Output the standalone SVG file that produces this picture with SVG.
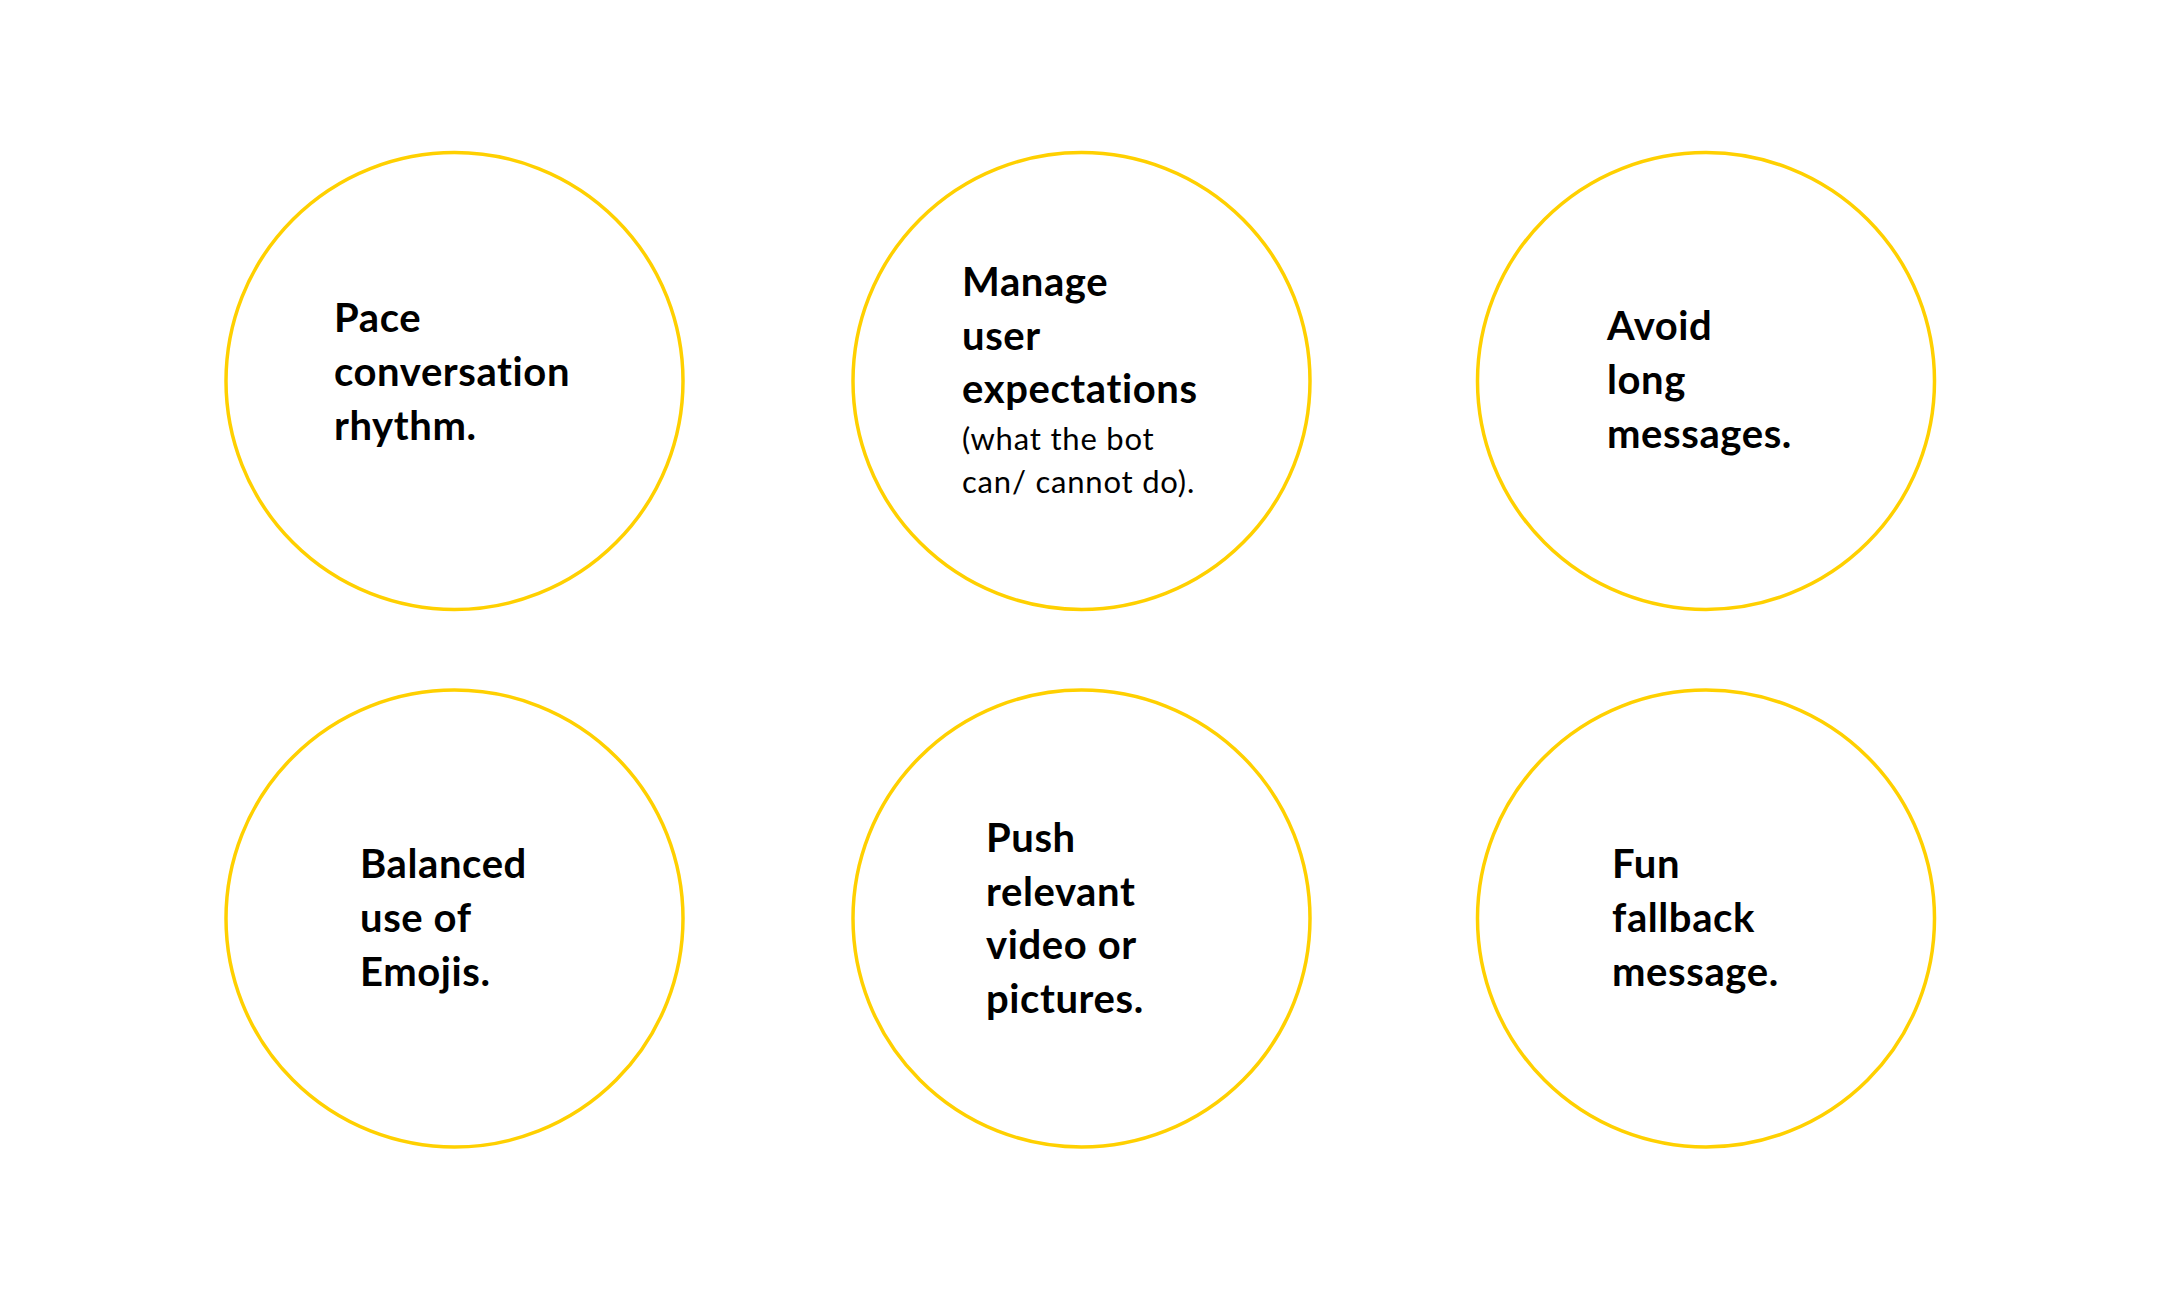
<svg xmlns="http://www.w3.org/2000/svg" width="2160" height="1300" viewBox="0 0 2160 1300">
<style>
.c{fill:none;stroke:#FFD000;stroke-width:3.5}
.t{font-family:Lato,"Open Sans","Liberation Sans",sans-serif;font-weight:700;font-size:40px;fill:#000;letter-spacing:0.6px}
.s{font-family:Lato,"Open Sans","Liberation Sans",sans-serif;font-weight:400;font-size:31px;fill:#000;letter-spacing:0.8px}
</style>
<rect width="2160" height="1300" fill="#fff"/>
<g id="connectors"/>
<g id="n1">
<circle class="c" cx="454.5" cy="381" r="228.5"/>
<text class="t" x="334"><tspan x="334" y="332">Pace</tspan><tspan x="334" y="386">conversation</tspan><tspan x="334" y="440">rhythm.</tspan></text>
</g>
<g id="n2">
<circle class="c" cx="1081.5" cy="381" r="228.5"/>
<text class="t"><tspan x="962" y="296">Manage</tspan><tspan x="962" y="350">user</tspan><tspan x="962" y="403">expectations</tspan></text>
<text class="s"><tspan x="962" y="450">(what the bot</tspan><tspan x="962" y="493">can/ cannot do).</tspan></text>
</g>
<g id="n3">
<circle class="c" cx="1706" cy="381" r="228.5"/>
<text class="t"><tspan x="1607" y="340">Avoid</tspan><tspan x="1607" y="394">long</tspan><tspan x="1607" y="448">messages.</tspan></text>
</g>
<g id="n4">
<circle class="c" cx="454.5" cy="918.5" r="228.5"/>
<text class="t"><tspan x="360" y="878">Balanced</tspan><tspan x="360" y="932">use of</tspan><tspan x="360" y="986">Emojis.</tspan></text>
</g>
<g id="n5">
<circle class="c" cx="1081.5" cy="918.5" r="228.5"/>
<text class="t"><tspan x="986" y="852">Push</tspan><tspan x="986" y="906">relevant</tspan><tspan x="986" y="959">video or</tspan><tspan x="986" y="1013">pictures.</tspan></text>
</g>
<g id="n6">
<circle class="c" cx="1706" cy="918.5" r="228.5"/>
<text class="t"><tspan x="1612" y="878">Fun</tspan><tspan x="1612" y="932">fallback</tspan><tspan x="1612" y="986">message.</tspan></text>
</g>
</svg>
